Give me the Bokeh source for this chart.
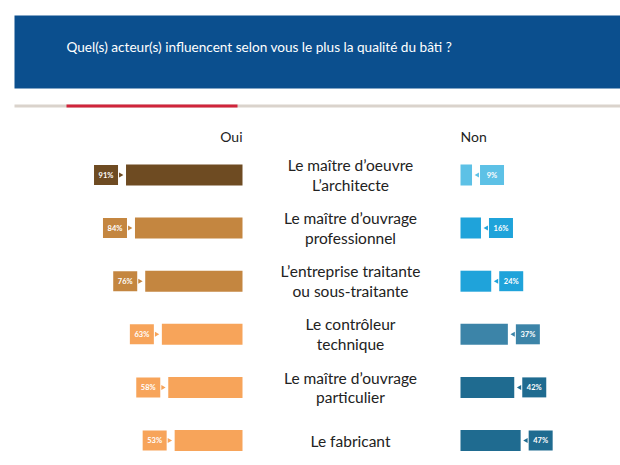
from bokeh.plotting import figure
from bokeh.models import Range1d, ColumnDataSource
from bokeh.core.properties import value
from bokeh.embed import file_html
from bokeh.resources import INLINE
import math

# ---- data ----
title = "Quel(s) acteur(s) influencent selon vous le plus la qualité du bâti ?"
categories = [
    "Le maître d\u2019oeuvre\nL\u2019architecte",
    "Le maître d\u2019ouvrage\nprofessionnel",
    "L\u2019entreprise traitante\nou sous-traitante",
    "Le contrôleur\ntechnique",
    "Le maître d\u2019ouvrage\nparticulier",
    "Le fabricant",
]
oui = [91, 84, 76, 63, 58, 53]
non = [9, 16, 24, 37, 42, 47]
oui_colors = ["#6E4B22", "#C48640", "#C48640", "#F7A45A", "#F7A45A", "#F7A45A"]
non_colors = ["#5DC1E6", "#1FA3DA", "#1FA3DA", "#3C84A8", "#1F6B90", "#1F6B90"]

W, H = 620, 465
OFF = 0           # page offset of the figure
S = 1.28          # px per percent
ROW = 53.1        # px per row
OUI_BASE_PX = 242 - OFF
Y0_PX = 174.5 - OFF
NON_BASE = (460 - OFF - OUI_BASE_PX) / S

def xd(px):  # screen px -> data x
    return (px - OFF - OUI_BASE_PX) / S

def yd(py):  # screen px -> data y
    return (py - OFF - Y0_PX) / ROW

def wx(px):
    return px / S

def hy(py):
    return py / ROW

p = figure(width=W, height=H, output_backend="svg", toolbar_location=None,
           x_range=Range1d(-OUI_BASE_PX / S, (W - OUI_BASE_PX) / S),
           y_range=Range1d((H - Y0_PX) / ROW, -Y0_PX / ROW),
           min_border=0)
p.axis.visible = False
p.grid.visible = False
p.outline_line_color = None
p.background_fill_color = "white"
p.border_fill_color = "white"

FONT = value("Lato")

# banner
p.quad(left=[xd(14)], right=[xd(640)], top=[yd(15)], bottom=[yd(88)],
       fill_color="#0B4F8E", line_color=None)
p.text(x=[xd(66)], y=[yd(46)], text=[title], text_color="white",
       text_font=FONT, text_font_size="13.6px", text_baseline="middle", text_align="left")
# separator lines
p.quad(left=[xd(14)], right=[xd(640)], top=[yd(104)], bottom=[yd(107)],
       fill_color="#DAD3CC", line_color=None)
p.quad(left=[xd(66)], right=[xd(237)], top=[yd(104)], bottom=[yd(107)],
       fill_color="#D0243B", line_color=None)

# headers
p.text(x=[0], y=[yd(136)], text=["Oui"], text_font=FONT, text_font_size="14px",
       text_color="#222222", text_align="right", text_baseline="middle")
p.text(x=[NON_BASE], y=[yd(136)], text=["Non"], text_font=FONT, text_font_size="14px",
       text_color="#222222", text_align="left", text_baseline="middle")

n = len(categories)
rows = list(range(n))
bh = hy(21)
gap = wx(8)
bw = wx(24)
boxh = hy(20)

src = ColumnDataSource(dict(
    y=rows, oui=oui, non=non,
    oui_left=[-v for v in oui], oui_right=[0] * n,
    non_left=[NON_BASE] * n, non_right=[NON_BASE + v for v in non],
    ob_left=[-v - gap - bw for v in oui], ob_right=[-v - gap for v in oui],
    ob_x=[-v - gap - bw / 2 for v in oui], ob_tip=[-v - gap + wx(2.5) for v in oui],
    nb_left=[NON_BASE + v + gap for v in non], nb_right=[NON_BASE + v + gap + bw for v in non],
    nb_x=[NON_BASE + v + gap + bw / 2 for v in non], nb_tip=[NON_BASE + v + gap - wx(2.5) for v in non],
    oui_lab=[f"{v}%" for v in oui], non_lab=[f"{v}%" for v in non],
    oc=oui_colors, nc=non_colors, cat=categories,
))

p.hbar(y="y", left="oui_left", right="oui_right", height=bh, fill_color="oc", line_color=None, source=src)
p.hbar(y="y", left="non_left", right="non_right", height=bh, fill_color="nc", line_color=None, source=src)

# value boxes
p.hbar(y="y", left="ob_left", right="ob_right", height=boxh, fill_color="oc", line_color=None, source=src)
p.hbar(y="y", left="nb_left", right="nb_right", height=boxh, fill_color="nc", line_color=None, source=src)
p.scatter(x="ob_tip", y="y", marker="triangle", size=5, angle=-math.pi / 2,
          fill_color="oc", line_color=None, source=src)
p.scatter(x="nb_tip", y="y", marker="triangle", size=5, angle=math.pi / 2,
          fill_color="nc", line_color=None, source=src)
p.text(x="ob_x", y="y", text="oui_lab", text_color="white", text_font=FONT,
       text_font_style="bold", text_font_size="7.5px", text_align="center",
       text_baseline="middle", source=src)
p.text(x="nb_x", y="y", text="non_lab", text_color="white", text_font=FONT,
       text_font_style="bold", text_font_size="7.5px", text_align="center",
       text_baseline="middle", source=src)

# category labels
p.text(x=xd(350), y="y", text="cat", text_color="#222222", text_font=FONT,
       text_font_size="15.5px", text_align="center", text_baseline="middle",
       text_line_height=1.1, source=src)

open("out.html", "w").write(file_html(p, INLINE))
